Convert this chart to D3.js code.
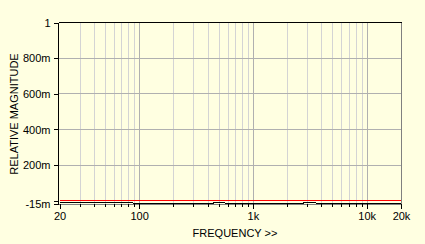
<!DOCTYPE html>
<html>
<head>
<meta charset="utf-8">
<script src="https://cdn.jsdelivr.net/npm/d3@7"></script>
<style>
  body { margin: 0; background: #ffffe1; }
  svg { display: block; }
  .axis text { font-family: "Liberation Sans", Arial, sans-serif; font-size: 11px; fill: #000; }
</style>
</head>
<body>
<div id="chart"></div>
<script>
// ---- data ----
const majorFreqs = [20, 100, 1000, 10000, 20000];
const majorFreqLabels = ["20", "100", "1k", "10k", "20k"];
const minorFreqs = [30, 40, 50, 60, 70, 80, 90,
  200, 300, 400, 500, 600, 700, 800, 900,
  2000, 3000, 4000, 5000, 6000, 7000, 8000, 9000];
const gridDecades = [100, 1000, 10000];

const magTicks = [-0.015, 0, 0.2, 0.4, 0.6, 0.8, 1];
const magLabels = ["-15m", "", "200m", "400m", "600m", "800m", "1"];
const magGrid = [0.2, 0.4, 0.6, 0.8];

// red trace: flat
const redFreq = [20, 20000];
const redMag = [0, 0];
// black trace
const blackFreq = [20, 88, 88, 443, 443, 565, 565, 2730, 2730, 3550, 3550, 20000];
const blackMag = [-0.008, -0.008, -0.015, -0.015, -0.008, -0.008, -0.015, -0.015, -0.008, -0.008, -0.015, -0.015];

// ---- layout ----
const width = 425;
const height = 244;
const LEFT = 58.5, RIGHT = 401.5, TOP = 22.5, BOTTOM = 204.5;

const BG = "#ffffe1";
const MINOR_GRID = "#d4d4d4";
const MAJOR_GRID = "#b0b0b0";

const svg = d3.select("#chart")
  .append("svg")
  .attr("width", width)
  .attr("height", height);

svg.append("rect").attr("width", width).attr("height", height).attr("fill", BG);

const x = d3.scaleLog().domain([20, 20000]).range([59.5, 401]);
const y = d3.scaleLinear().domain([-0.015, 1]).range([203.5, 22.5]);
const py = v => Math.floor(y(v)) + 0.5; // snap to pixel rows

// grid lines
const grid = svg.append("g").attr("shape-rendering", "crispEdges");
grid.selectAll("line.minor")
  .data(minorFreqs)
  .enter()
  .append("line")
  .attr("x1", d => Math.round(x(d)) + 0.5)
  .attr("x2", d => Math.round(x(d)) + 0.5)
  .attr("y1", TOP)
  .attr("y2", BOTTOM)
  .attr("stroke", MINOR_GRID);

grid.selectAll("line.major")
  .data(gridDecades)
  .enter()
  .append("line")
  .attr("x1", d => Math.round(x(d)) + 0.5)
  .attr("x2", d => Math.round(x(d)) + 0.5)
  .attr("y1", TOP)
  .attr("y2", BOTTOM)
  .attr("stroke", MAJOR_GRID);

grid.selectAll("line.h")
  .data(magGrid)
  .enter()
  .append("line")
  .attr("x1", LEFT)
  .attr("x2", RIGHT)
  .attr("y1", d => py(d))
  .attr("y2", d => py(d))
  .attr("stroke", MAJOR_GRID);

// frame: dark on top/left, gray on bottom/right
const frame = svg.append("g").attr("shape-rendering", "crispEdges");
frame.append("line").attr("x1", LEFT).attr("x2", RIGHT).attr("y1", BOTTOM).attr("y2", BOTTOM).attr("stroke", "#808080");
frame.append("line").attr("x1", RIGHT).attr("x2", RIGHT).attr("y1", TOP).attr("y2", BOTTOM).attr("stroke", "#808080");
frame.append("line").attr("x1", LEFT).attr("x2", RIGHT).attr("y1", TOP).attr("y2", TOP).attr("stroke", "#000");
frame.append("line").attr("x1", LEFT).attr("x2", LEFT).attr("y1", TOP).attr("y2", BOTTOM).attr("stroke", "#000");

// traces (drawn as segments between consecutive points)
function drawTrace(freqs, mags, color) {
  const pts = freqs.map((f, i) => ({ f: f, m: mags[i] }));
  const segs = d3.pairs(pts);
  svg.append("g")
    .attr("shape-rendering", "crispEdges")
    .selectAll("line")
    .data(segs)
    .enter()
    .append("line")
    .attr("x1", d => Math.round(x(d[0].f)))
    .attr("x2", d => Math.round(x(d[1].f)))
    .attr("y1", d => py(d[0].m))
    .attr("y2", d => py(d[1].m))
    .attr("stroke", color)
    .attr("stroke-width", 1);
}

drawTrace(blackFreq, blackMag, "#000000");
drawTrace(redFreq, redMag, "#ff0000");

// x axis: major ticks with labels, minor ticks without
const xMajor = d3.axisBottom(x)
  .tickValues(majorFreqs)
  .tickFormat((d, i) => majorFreqLabels[i])
  .tickSize(5)
  .tickPadding(3);

const xMinor = d3.axisBottom(x)
  .tickValues(minorFreqs)
  .tickFormat("")
  .tickSize(3);

[xMajor, xMinor].forEach(ax => {
  const g = svg.append("g")
    .attr("class", "axis")
    .attr("transform", `translate(0,${BOTTOM - 0.5})`)
    .call(ax);
  g.select(".domain").remove();
  g.selectAll(".tick line").attr("stroke", "#000").attr("shape-rendering", "crispEdges");
});

// y axis
const yAxis = d3.axisLeft(y)
  .tickValues(magTicks)
  .tickFormat((d, i) => magLabels[i])
  .tickSize(5)
  .tickPadding(3);

const gy = svg.append("g")
  .attr("class", "axis")
  .attr("transform", `translate(${LEFT},0)`)
  .call(yAxis);
gy.select(".domain").remove();
gy.selectAll(".tick line").attr("stroke", "#000").attr("shape-rendering", "crispEdges");

// axis titles
svg.append("text")
  .attr("x", 235)
  .attr("y", 237)
  .attr("text-anchor", "middle")
  .style("font-family", "Liberation Sans, Arial, sans-serif")
  .style("font-size", "11px")
  .text("FREQUENCY >>");

svg.append("text")
  .attr("transform", "translate(18,114) rotate(-90)")
  .attr("text-anchor", "middle")
  .style("font-family", "Liberation Sans, Arial, sans-serif")
  .style("font-size", "11px")
  .text("RELATIVE MAGNITUDE");
</script>
</body>
</html>
